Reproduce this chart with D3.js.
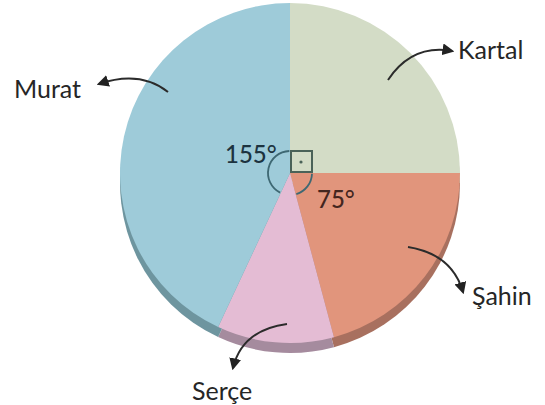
<!DOCTYPE html>
<html>
<head>
<meta charset="utf-8">
<script src="https://cdn.jsdelivr.net/npm/d3@7"></script>
<style>
  body { margin: 0; background: #fff; }
  text { font-family: Lato, 'Noto Sans', sans-serif; }
</style>
</head>
<body>
<div id="wrapper"></div>
<script>
// Data
const birds = ['Kartal', 'Şahin', 'Serçe', 'Murat']
const degrees = [90, 75, 40, 155]
const fillColors = ['#d3dcc6', '#e1957c', '#e4bcd4', '#9ecbd9']
const rimColors = ['#a9b09c', '#a8705f', '#a58b9e', '#6e959f']

// labels shown on the angles
const angleLabels = ['155°', '75°']

// label + arrow annotations
const annotations = [
  { name: 'Kartal', x: 458, y: 59, path: 'M388,80 Q412,44 452,51' },
  { name: 'Şahin', x: 472, y: 305, path: 'M408,247 Q452,254 463,292' },
  { name: 'Serçe', x: 192, y: 400, path: 'M287,324 Q242,330 233,368' },
  { name: 'Murat', x: 14, y: 98, path: 'M168,92 Q140,70 99,84' }
]

function draw() {
  const dimensions = { width: 545, height: 405 }
  const cx = 290
  const cy = 173
  const radius = 170
  const rimOffset = 10

  const svg = d3.select('#wrapper')
    .append('svg')
      .attr('width', dimensions.width)
      .attr('height', dimensions.height)

  const defs = svg.append('defs')
  defs.append('marker')
      .attr('id', 'head')
      .attr('viewBox', '0 0 10 10')
      .attr('refX', 8)
      .attr('refY', 5)
      .attr('markerWidth', 6)
      .attr('markerHeight', 6)
      .attr('orient', 'auto')
      .attr('markerUnits', 'strokeWidth')
    .append('path')
      .attr('d', 'M0,0 L10,5 L0,10 Z')
      .attr('fill', '#222')

  const pie = d3.pie()
    .sort(null)
    .value(d => d)
    .startAngle(0)
    .endAngle(2 * Math.PI)

  const slices = pie(degrees)
  const arc = d3.arc().innerRadius(0).outerRadius(radius)

  // rim (3d edge) under the pie
  svg.append('g')
      .attr('transform', `translate(${cx},${cy + rimOffset})`)
    .selectAll('path')
    .data(slices)
    .join('path')
      .attr('d', arc)
      .attr('fill', (d, i) => rimColors[i])

  const pieG = svg.append('g')
      .attr('transform', `translate(${cx},${cy})`)

  pieG.selectAll('path')
    .data(slices)
    .join('path')
      .attr('d', arc)
      .attr('fill', (d, i) => fillColors[i])

  // angle markers
  const markColor = '#3e6873'
  const markR = 22
  const smallArc = d3.arc().innerRadius(markR).outerRadius(markR)

  // right angle square for Kartal
  const sq = markR
  pieG.append('rect')
      .attr('x', 1)
      .attr('y', -sq)
      .attr('width', sq - 1)
      .attr('height', sq - 1)
      .attr('fill', 'none')
      .attr('stroke', '#4a6258')
      .attr('stroke-width', 2)
  pieG.append('circle')
      .attr('cx', sq / 2)
      .attr('cy', -sq / 2)
      .attr('r', 1.6)
      .attr('fill', '#4a6258')

  // arcs for Şahin (75) and Murat (155)
  ;[1, 3].forEach(i => {
    pieG.append('path')
        .attr('d', smallArc({ startAngle: slices[i].startAngle + 0.03, endAngle: slices[i].endAngle - 0.03 }))
        .attr('fill', 'none')
        .attr('stroke', markColor)
        .attr('stroke-width', 1.8)
  })

  svg.append('text')
      .attr('x', 225)
      .attr('y', 163)
      .attr('font-size', 24)
      .attr('font-weight', 500)
      .attr('fill', '#1c3340')
      .text(angleLabels[0])
  svg.append('text')
      .attr('x', 317)
      .attr('y', 208)
      .attr('font-size', 24)
      .attr('font-weight', 500)
      .attr('fill', '#44261f')
      .text(angleLabels[1])

  // leaders + names
  const ann = svg.append('g')
  ann.selectAll('path')
    .data(annotations)
    .join('path')
      .attr('d', d => d.path)
      .attr('fill', 'none')
      .attr('stroke', '#2b2b2b')
      .attr('stroke-width', 2)
      .attr('marker-end', 'url(#head)')

  ann.selectAll('text')
    .data(annotations)
    .join('text')
      .attr('x', d => d.x)
      .attr('y', d => d.y)
      .attr('font-size', 25)
      .attr('fill', '#262626')
      .text(d => d.name)
}
draw()
</script>
</body>
</html>
